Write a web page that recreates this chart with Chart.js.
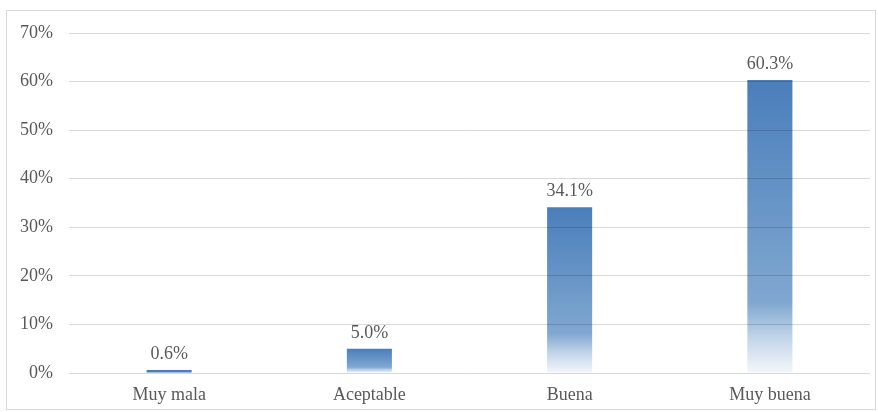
<!DOCTYPE html>
<html>
<head>
<meta charset="utf-8">
<script src="https://cdn.jsdelivr.net/npm/chart.js@4.4.0/dist/chart.umd.min.js"></script>
<style>
  html, body { margin: 0; padding: 0; background: #fff; }
  #wrap { position: relative; width: 878px; height: 412px; }
  #frame { position: absolute; left: 6px; top: 10px; width: 870px; height: 400px; border: 1px solid #d9d9d9; box-sizing: border-box; pointer-events: none; }
  canvas { position: absolute; left: 0; top: 0; }
</style>
</head>
<body>
<div id="wrap">
  <canvas id="c" width="878" height="412"></canvas>
  <div id="frame"></div>
</div>
<script>
const categories = ["Muy mala", "Aceptable", "Buena", "Muy buena"];
const values = [0.6, 5.0, 34.1, 60.3];
const valueLabels = ["0.6%", "5.0%", "34.1%", "60.3%"];
const yTicks = [0, 10, 20, 30, 40, 50, 60, 70];

const FONT = "'Liberation Serif', 'Times New Roman', serif";

const labelPlugin = {
  id: 'valueLabels',
  afterDatasetsDraw(chart) {
    const ctx = chart.ctx;
    const meta = chart.getDatasetMeta(0);
    ctx.save();
    ctx.font = "18px " + FONT;
    ctx.fillStyle = "#595959";
    ctx.textAlign = "center";
    ctx.textBaseline = "alphabetic";
    meta.data.forEach((bar, i) => {
      ctx.fillText(valueLabels[i], bar.x, bar.y - 11);
    });
    ctx.restore();
  }
};

new Chart(document.getElementById('c'), {
  type: 'bar',
  data: {
    labels: categories,
    datasets: [{
      data: values,
      backgroundColor: (c) => {
        const chart = c.chart;
        if (!chart.chartArea) return '#4a7ebb';
        const ys = chart.scales.y;
        const top = ys.getPixelForValue(values[c.dataIndex]);
        const bottom = ys.getPixelForValue(0);
        if (bottom - top < 4) return '#4a7ebb';
        const g = chart.ctx.createLinearGradient(0, top, 0, bottom);
        g.addColorStop(0, '#4a7ebb');
        g.addColorStop(0.76, '#80a7d0');
        g.addColorStop(0.88, '#c2d5e9');
        g.addColorStop(1, '#f4f7fb');
        return g;
      },
      borderWidth: 0,
      barPercentage: 0.45,
      categoryPercentage: 0.5
    }]
  },
  options: {
    responsive: false,
    animation: false,
    devicePixelRatio: 1,
    layout: { padding: { left: 0, right: 8, top: 33, bottom: 0 } },
    plugins: { legend: { display: false }, tooltip: { enabled: false } },
    scales: {
      x: {
        grid: { display: false, drawTicks: false },
        border: { display: false },
        ticks: { color: '#595959', font: { family: FONT, size: 18 }, padding: 11 },
        afterFit(s) { s.height = 39; }
      },
      y: {
        min: 0, max: 70,
        afterBuildTicks(s) { s.ticks = yTicks.map(v => ({ value: v })); },
        grid: { color: 'rgba(0,0,0,0.15)', drawTicks: false, z: 1 },
        border: { display: false },
        ticks: {
          color: '#595959',
          font: { family: FONT, size: 18 },
          padding: 16,
          callback: (v) => v + '%'
        },
        afterFit(s) { s.width = 69; }
      }
    }
  },
  plugins: [labelPlugin]
});
</script>
</body>
</html>
